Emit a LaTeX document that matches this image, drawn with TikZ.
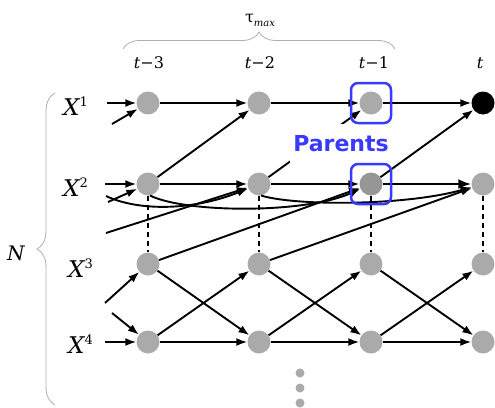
\documentclass[tikz,border=0pt]{standalone}
\usepackage{fontspec}
\usetikzlibrary{arrows.meta,decorations.pathreplacing}
\newfontfamily\dvserif{DejaVu Serif}
\newfontfamily\dvsans{DejaVu Sans}
\definecolor{nodegray}{RGB}{170,170,170}
\definecolor{pargray}{RGB}{150,150,150}
\definecolor{parblue}{RGB}{58,58,255}
\definecolor{bracegray}{RGB}{175,175,175}

\begin{document}
\begin{tikzpicture}[x=1pt,y=-1pt,
  varnode/.style={circle,fill=nodegray,minimum size=23pt,inner sep=0pt},
  dotnode/.style={circle,fill=nodegray,minimum size=9pt,inner sep=0pt},
  link/.style={line width=1.9pt,-{Latex[length=11pt,width=8pt]}},
  boldlink/.style={line width=2.8pt,-{Latex[length=13pt,width=10pt]}},
  contemp/.style={line width=1.9pt,dash pattern=on 5pt off 4pt},
  lagbrace/.style={bracegray,line width=0.8pt,decorate},
  parbox/.style={draw=parblue,line width=2.5pt,rounded corners=7pt,minimum size=40pt,inner sep=0pt},
  timelabel/.style={font=\dvserif\fontsize{16}{16}\selectfont,anchor=base,inner sep=0pt},
  varlabel/.style={font=\dvserif\fontsize{23}{23}\selectfont,anchor=base west,inner sep=0pt}]
\useasboundingbox (0,0) rectangle (495,407);

% variables X^1 ... X^4 at lags t-3 ... t
\node[varnode] (x1a) at (148,103) {};
\node[varnode] (x1b) at (259,103) {};
\node[varnode] (x1c) at (371,103) {};
\node[varnode,fill=black] (x1d) at (483,103) {};
\node[varnode] (x2a) at (148,184) {};
\node[varnode] (x2b) at (259,184) {};
\node[varnode,fill=pargray] (x2c) at (371,184) {};
\node[varnode] (x2d) at (483,184) {};
\node[varnode] (x3a) at (148,264) {};
\node[varnode] (x3b) at (259,264) {};
\node[varnode] (x3c) at (371,264) {};
\node[varnode] (x3d) at (483,264) {};
\node[varnode] (x4a) at (148,342) {};
\node[varnode] (x4b) at (259,342) {};
\node[varnode] (x4c) at (371,342) {};
\node[varnode] (x4d) at (483,342) {};

% further variables
\node[dotnode] (dot1) at (300,373) {};
\node[dotnode] (dot2) at (300,388) {};
\node[dotnode] (dot3) at (300,403) {};

% loose ends of links coming from earlier times
\coordinate (in1) at (107,103);
\coordinate (in21) at (112,124);
\coordinate (in2) at (105,184);
\coordinate (in32a) at (108,202);
\coordinate (in22) at (106,196);
\coordinate (in32b) at (106,233);
\coordinate (in43) at (105,303);
\coordinate (in34) at (112,313);
\coordinate (in4) at (105,342);

% X^1 autodependency and X^2 -> X^1
\draw[link] (in1) -- (x1a);
\draw[link] (x1a) -- (x1b);
\draw[link] (x1b) -- (x1c);
\draw[link] (x1c) -- (x1d);
\draw[link] (in21) -- (x1a);
\draw[link] (x2a) -- (x1b);
\draw[link] (x2b) -- (x1c);
\draw[link] (x2c) -- (x1d);

% X^2 autodependency at lags 1 and 2
\draw[link] (in2) -- (x2a);
\draw[link] (x2a) -- (x2b);
\draw[link] (x2b) -- (x2c);
\draw[boldlink] (x2c) -- (x2d);
\draw[link] (in22) .. controls (140,212) and (195,210) .. (x2b);
\draw[link] (x2a.-80) .. controls (185,213) and (305,214) .. (x2c);
\draw[link] (x2b.-80) .. controls (295,206) and (405,206) .. (x2d);

% X^3 -> X^2 at lag 2
\draw[link] (in32a) -- (x2a);
\draw[link] (in32b) -- (x2b);
\draw[link] (x3a) -- (x2c);
\draw[link] (x3b) -- (x2d);

% contemporaneous X^2 -- X^3
\draw[contemp] (x2a) -- (x3a);
\draw[contemp] (x2b) -- (x3b);
\draw[contemp] (x2c) -- (x3c);
\draw[contemp] (x2d) -- (x3d);

% X^3 <-> X^4 at lag 1 and X^4 autodependency
\draw[link] (in43) -- (x3a);
\draw[link] (in34) -- (x4a);
\draw[link] (in4) -- (x4a);
\draw[link] (x4a) -- (x3b);
\draw[link] (x4b) -- (x3c);
\draw[link] (x4c) -- (x3d);
\draw[link] (x3a) -- (x4b);
\draw[link] (x3b) -- (x4c);
\draw[link] (x3c) -- (x4d);
\draw[link] (x4a) -- (x4b);
\draw[link] (x4b) -- (x4c);
\draw[link] (x4c) -- (x4d);

% parents of X^1_t
\node[fill=white,inner xsep=3pt,inner ysep=0pt,minimum height=40pt,text=parblue,
      font=\dvsans\bfseries\fontsize{22}{22}\selectfont] (par) at (341,144) {Parents};
\node[parbox] (box1) at (x1c) {};
\node[parbox] (box2) at (x2c) {};

% time labels and braces
\node[timelabel] (lt3) at (149,68) {\itshape t\upshape −3};
\node[timelabel] (lt2) at (260,68) {\itshape t\upshape −2};
\node[timelabel] (lt1) at (374,68) {\itshape t\upshape −1};
\node[timelabel] (lt0) at (480,68) {\itshape t};
\draw[lagbrace,decoration={brace,amplitude=17pt}] (123,49) -- (395,49);
\node[font=\dvserif\fontsize{16}{16}\selectfont,anchor=base,inner sep=0pt] (ltau) at (260,22)
  {τ\raisebox{-4pt}{\fontsize{10}{10}\selectfont\itshape max}};

% variable labels
\node[varlabel] (lx1) at (63,115) {\itshape X\upshape\raisebox{9pt}{\fontsize{13}{13}\selectfont 1}};
\node[varlabel] (lx2) at (63,196) {\itshape X\upshape\raisebox{9pt}{\fontsize{13}{13}\selectfont 2}};
\node[varlabel] (lx3) at (68,277) {\itshape X\upshape\raisebox{9pt}{\fontsize{13}{13}\selectfont 3}};
\node[varlabel] (lx4) at (68,353) {\itshape X\upshape\raisebox{9pt}{\fontsize{13}{13}\selectfont 4}};
\draw[lagbrace,decoration={brace,amplitude=18pt}] (55,405) -- (55,93);
\node[font=\dvserif\fontsize{20}{20}\selectfont\itshape,anchor=base west,inner sep=0pt] (lN) at (7,260) {N};
\end{tikzpicture}
\end{document}
